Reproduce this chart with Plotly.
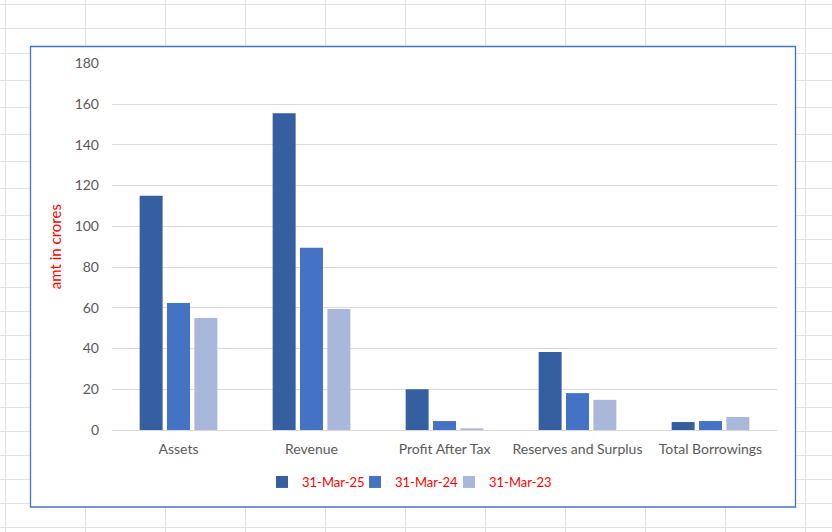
import plotly.graph_objects as go

categories = ["Assets", "Revenue", "Profit After Tax", "Reserves and Surplus", "Total Borrowings"]
series_names = ["31-Mar-25", "31-Mar-24", "31-Mar-23"]
mar25 = [115, 155.5, 20, 38.3, 3.9]
mar24 = [62.3, 89.4, 4.4, 18.1, 4.4]
mar23 = [55, 59.4, 0.6, 14.8, 6.4]
colors = ["#365FA1", "#4472C4", "#A9B7DB"]

W, H = 832, 532
def px(x):
    return x / W
def py(y):
    return 1 - y / H

font_family = "Lato, 'Noto Sans', sans-serif"
legend_ids = ["legend", "legend2", "legend3"]
legend_left = [262, 355, 449]

fig = go.Figure()
for name, vals, c, lid in zip(series_names, [mar25, mar24, mar23], colors, legend_ids):
    fig.add_trace(go.Bar(x=categories, y=vals, name=name, marker_color=c,
                         marker_line_width=0, legend=lid))

shapes = []
# spreadsheet background grid
for k in range(11):
    x = 5.5 + 80 * k
    shapes.append(dict(type="line", xref="paper", yref="paper", x0=px(x), x1=px(x),
                       y0=0, y1=1, line=dict(color="#E1E1E1", width=1), layer="below"))
rows = [4.5, 28.5, 53.5, 80.5, 107.5, 134.5, 161.5, 188.5, 215.5, 239.5, 263.5, 287.5,
        311.5, 335.5, 359.5, 383.5, 407.5, 431.5, 455.5, 479.5, 503.5, 527.5]
for y in rows:
    shapes.append(dict(type="line", xref="paper", yref="paper", x0=0, x1=1,
                       y0=py(y), y1=py(y), line=dict(color="#E1E1E1", width=1), layer="below"))
# chart area box
shapes.append(dict(type="rect", xref="paper", yref="paper", x0=px(30.5), x1=px(795.5),
                   y0=py(507), y1=py(46.5), fillcolor="white",
                   line=dict(color="#4472C4", width=1.3), layer="below"))

legends = {}
for lid, lx in zip(legend_ids, legend_left):
    legends[lid] = dict(orientation="h", x=px(lx), xanchor="left", y=py(482), yanchor="middle",
                        font=dict(color="#FF0000", size=13, family=font_family),
                        itemwidth=30, bgcolor="rgba(0,0,0,0)")

fig.update_layout(
    width=W, height=H,
    margin=dict(l=0, r=0, t=0, b=0),
    paper_bgcolor="white", plot_bgcolor="rgba(0,0,0,0)",
    font=dict(family=font_family, size=14, color="#595959"),
    barmode="group", bargap=0.383, bargroupgap=0.16,
    shapes=shapes,
    showlegend=True,
    xaxis=dict(domain=[px(112), px(777)], showgrid=False, showline=False, zeroline=False,
               ticks="", ticklabelstandoff=9, automargin=False,
               tickfont=dict(size=14, color="#595959")),
    yaxis=dict(domain=[py(430), py(63.3)], range=[0, 180], dtick=20, tick0=0,
               showgrid=True, gridcolor="#D9D9D9", gridwidth=1, zeroline=True,
               zerolinecolor="#D9D9D9", zerolinewidth=1, showline=False, ticks="",
               ticklabelstandoff=12, automargin=False,
               tickfont=dict(size=14, color="#595959"),
               title=dict(text="amt in crores", standoff=9,
                          font=dict(color="#FF0000", size=15, family=font_family))),
    **legends,
)

fig.write_html("out.html", post_script="document.body.style.margin='0';",
               config={"displayModeBar": False})
